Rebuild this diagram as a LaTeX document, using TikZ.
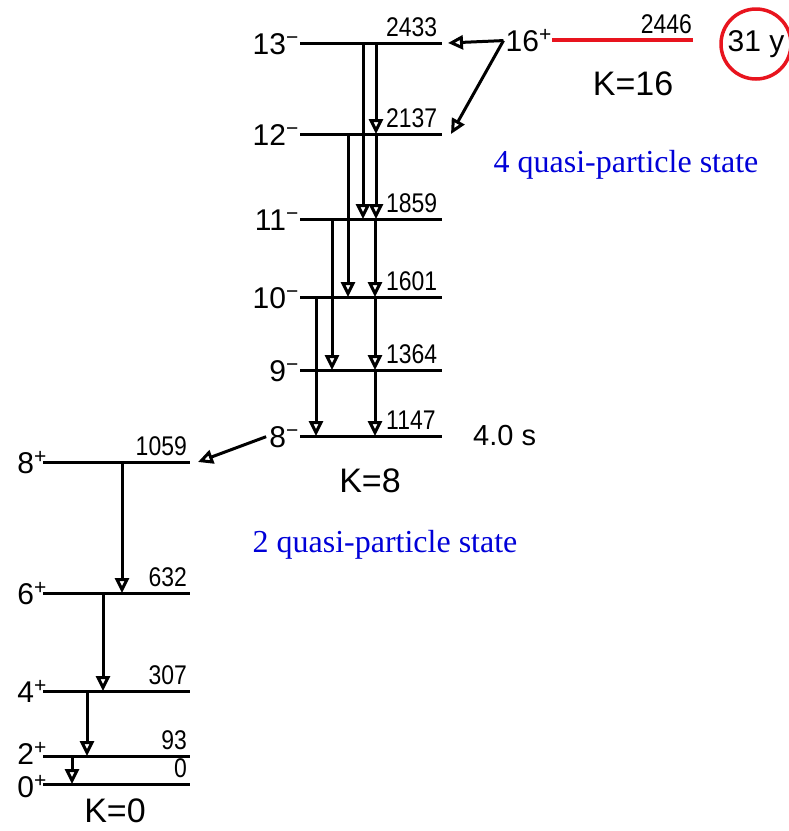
\documentclass[tikz,border=0pt]{standalone}
\usepackage{fontspec}
\setmainfont{Liberation Sans}
\newfontfamily\numfont[FakeStretch=0.85]{Liberation Sans}
\newfontfamily\qpfont{Liberation Serif}
\usepackage{tikz}
\usetikzlibrary{positioning, arrows.meta}
\definecolor{qpblue}{HTML}{0000D8}
\definecolor{isored}{HTML}{E8141E}

\tikzset{
    lvl/.style={line width=3pt},
    gline/.style={line width=3pt, -{Triangle[open, length=15pt, width=14pt]}},
    spin/.style={font=\fontsize{30}{30}\selectfont, inner sep=0pt},
    energy/.style={font=\numfont\fontsize{27}{27}\selectfont, inner sep=0pt},
    klab/.style={font=\fontsize{34}{34}\selectfont, inner sep=0pt},
    qp/.style={font=\qpfont\fontsize{32}{32}\selectfont, text=qpblue, inner sep=0pt},
    halo/.style={circle, draw=isored, line width=3.5pt, minimum size=70pt, inner sep=0pt,
                 font=\fontsize{30}{30}\selectfont}
}

\begin{document}
\begin{tikzpicture}[x=1pt, y=-1pt]
    \useasboundingbox (0,0) rectangle (789,831);

    % K=8 band
    \foreach \j/\y/\e in {13/43/2433, 12/134/2137, 11/219/1859, 10/297/1601, 9/370/1364, 8/436/1147}{
        \coordinate (a\j) at (300,\y);
        \coordinate (b\j) at (442,\y);
        \draw[lvl] (a\j) -- (b\j);
        \node[spin, anchor=base east] (s\j) at ([xshift=-1pt, yshift=-11pt]a\j) {\j\textsuperscript{−}};
        \node[energy, anchor=south west] (e\j) at (386,\y-6) {\e};
    }
    \foreach \i/\f/\x in {13/12/376, 13/11/363, 12/11/376, 12/10/348, 11/10/375, 11/9/332, 10/9/375, 10/8/316, 9/8/375}
        \draw[gline] (a\i -| \x,0) -- (a\f -| \x,0);
    \node[klab] (k8) at (370,481) {K=8};
    \node[klab, font=\fontsize{29}{29}\selectfont, right=31pt of b8] (t8) {4.0 s};

    % K=0 band
    \foreach \j/\y/\e/\d in {8/462/1059/11, 6/593/632/11, 4/691/307/11, 2/756/93/8, 0/784/0/13}{
        \coordinate (g\j) at (43,\y);
        \coordinate (h\j) at (190,\y);
        \draw[lvl] (g\j) -- (h\j);
        \node[spin, anchor=base east] (t\j) at ([xshift=4pt, yshift=-\d pt]g\j) {\j\textsuperscript{+}};
        \node[energy, anchor=south east] (f\j) at (187,\y-6) {\e};
    }
    \foreach \i/\f/\x in {8/6/122, 6/4/103, 4/2/87, 2/0/72}
        \draw[gline] (g\i -| \x,0) -- (g\f -| \x,0);
    \node[klab] (k0) at (115,811) {K=0};
    \draw[gline] ([xshift=-3pt]s8.west) -- ([xshift=8pt]h8);

    % K=16 isomer
    \coordinate (c16) at (552,40);
    \coordinate (d16) at (693,40);
    \draw[lvl, isored, line width=3.5pt] (c16) -- (d16);
    \node[spin, anchor=base east] (s16) at ([yshift=-11pt]c16) {16\textsuperscript{+}};
    \node[energy, anchor=south east] (e16) at (692,34) {2446};
    \node[klab] (k16) at (633,84) {K=16};
    \node[halo] (life) at (756,44) {31 y};
    \draw[gline] ([xshift=-2pt]s16.west) -- ([xshift=6pt]b13);
    \draw[gline] ([xshift=-2pt]s16.west) -- ([xshift=9pt]b12);

    \node[qp] (qp4) at (626,165) {4 quasi-particle state};
    \node[qp] (qp2) at (385,545) {2 quasi-particle state};
\end{tikzpicture}
\end{document}
